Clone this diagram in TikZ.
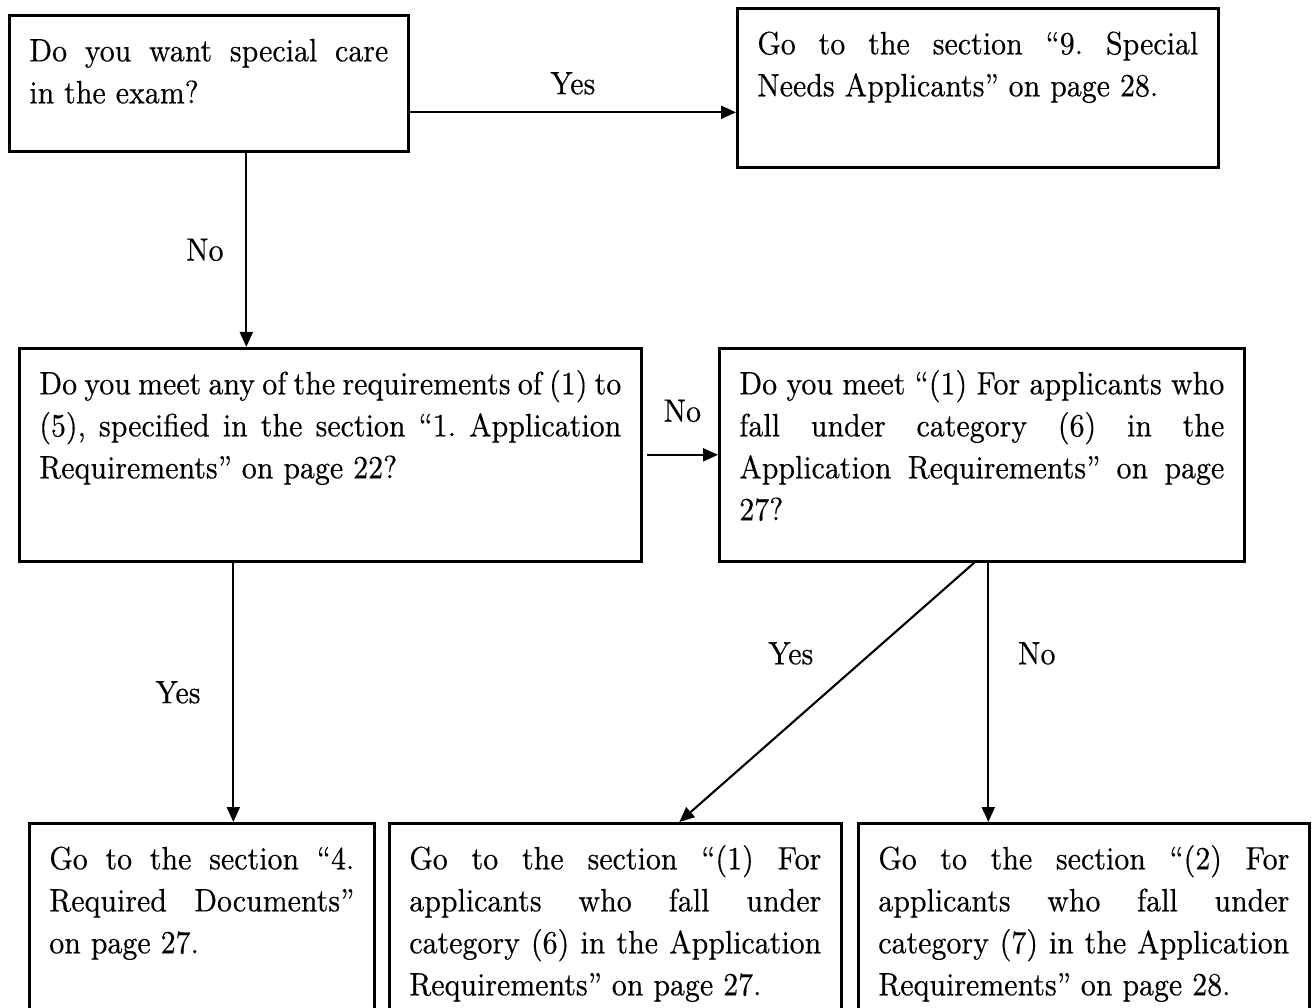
\documentclass[tikz,border=0pt]{standalone}
\usepackage{fontspec}
\setmainfont{Latin Modern Roman}[FakeStretch=0.9, FakeBold=0.3]
\usetikzlibrary{arrows.meta}

\newcommand\flowfont{\fontsize{9.2}{11.95}\selectfont\frenchspacing
    \tolerance=10000\relax \hyphenpenalty=10000\relax}

\tikzset{
    flowbox/.style={draw, line width=0.75pt, anchor=north west, align=justify,
        inner xsep=0.2cm, inner ysep=0.16cm, text height=0.3cm, font=\flowfont},
    flowarrow/.style={-{Triangle[length=0.15cm,width=0.13cm]}, line width=0.6pt},
    answer/.style={font=\flowfont}
}

\begin{document}
\begin{tikzpicture}
    \clip (0,0) rectangle (13.14,-10.08);
    % questions
    \node[flowbox, text width=3.59cm, text depth=0.74cm] (care) at (0.08,-0.14)
        {Do you want special care\linebreak in the exam?};
    \node[flowbox, text width=4.41cm, text depth=0.97cm] (special) at (7.36,-0.07)
        {Go to the section “9. Special\linebreak Needs Applicants” on page 28.};
    \node[flowbox, text width=5.82cm, text depth=1.51cm] (req) at (0.18,-3.47)
        {Do you meet any of the requirements of (1) to\linebreak
         (5), specified in the section “1. Application\linebreak
         Requirements” on page 22?};
    \node[flowbox, text width=4.85cm, text depth=1.51cm] (cat) at (7.18,-3.47)
        {Do you meet “(1) For applicants who\linebreak
         fall under category (6) in the\linebreak
         Application Requirements” on page\linebreak 27?};
    % answers
    \node[flowbox, text width=3.05cm, text depth=1.28cm] (docs) at (0.28,-8.22)
        {Go to the section “4.\linebreak Required Documents”\linebreak on page 27.};
    \node[flowbox, text width=4.12cm, text depth=1.28cm] (six) at (3.88,-8.22)
        {Go to the section “(1) For\linebreak applicants who fall under\linebreak
         category (6) in the Application\linebreak Requirements” on page 27.};
    \node[flowbox, text width=4.11cm, text depth=1.28cm] (seven) at (8.57,-8.22)
        {Go to the section “(2) For\linebreak applicants who fall under\linebreak
         category (7) in the Application\linebreak Requirements” on page 28.};

    % connectors
    \draw[flowarrow] ([yshift=-0.29cm]care.east) coordinate (cs) -- (cs -| special.west)
        node[answer, midway, above=0.05cm] {Yes};
    \draw[flowarrow] ([xshift=0.375cm]care.south) coordinate (cr) -- (cr |- req.north)
        node[answer, midway, left=0.1cm] {No};
    \draw[flowarrow] ([xshift=0.04cm]req.east) -- (req.east -| cat.west)
        node[answer, midway, above=0.2cm] {No};
    \coordinate (rd) at ([xshift=0.315cm]docs.north);
    \draw[flowarrow] (rd |- req.south) -- (rd)
        node[answer, midway, left=0.2cm] {Yes};
    \draw[flowarrow] ([xshift=-0.075cm]cat.south) -- ([xshift=0.64cm]six.north)
        node[answer, pos=0.35, left=0.45cm] {Yes};
    \draw[flowarrow] ([xshift=0.065cm]cat.south) coordinate (cg) -- (cg |- seven.north)
        node[answer, pos=0.35, right=0.17cm] {No};
\end{tikzpicture}
\end{document}
